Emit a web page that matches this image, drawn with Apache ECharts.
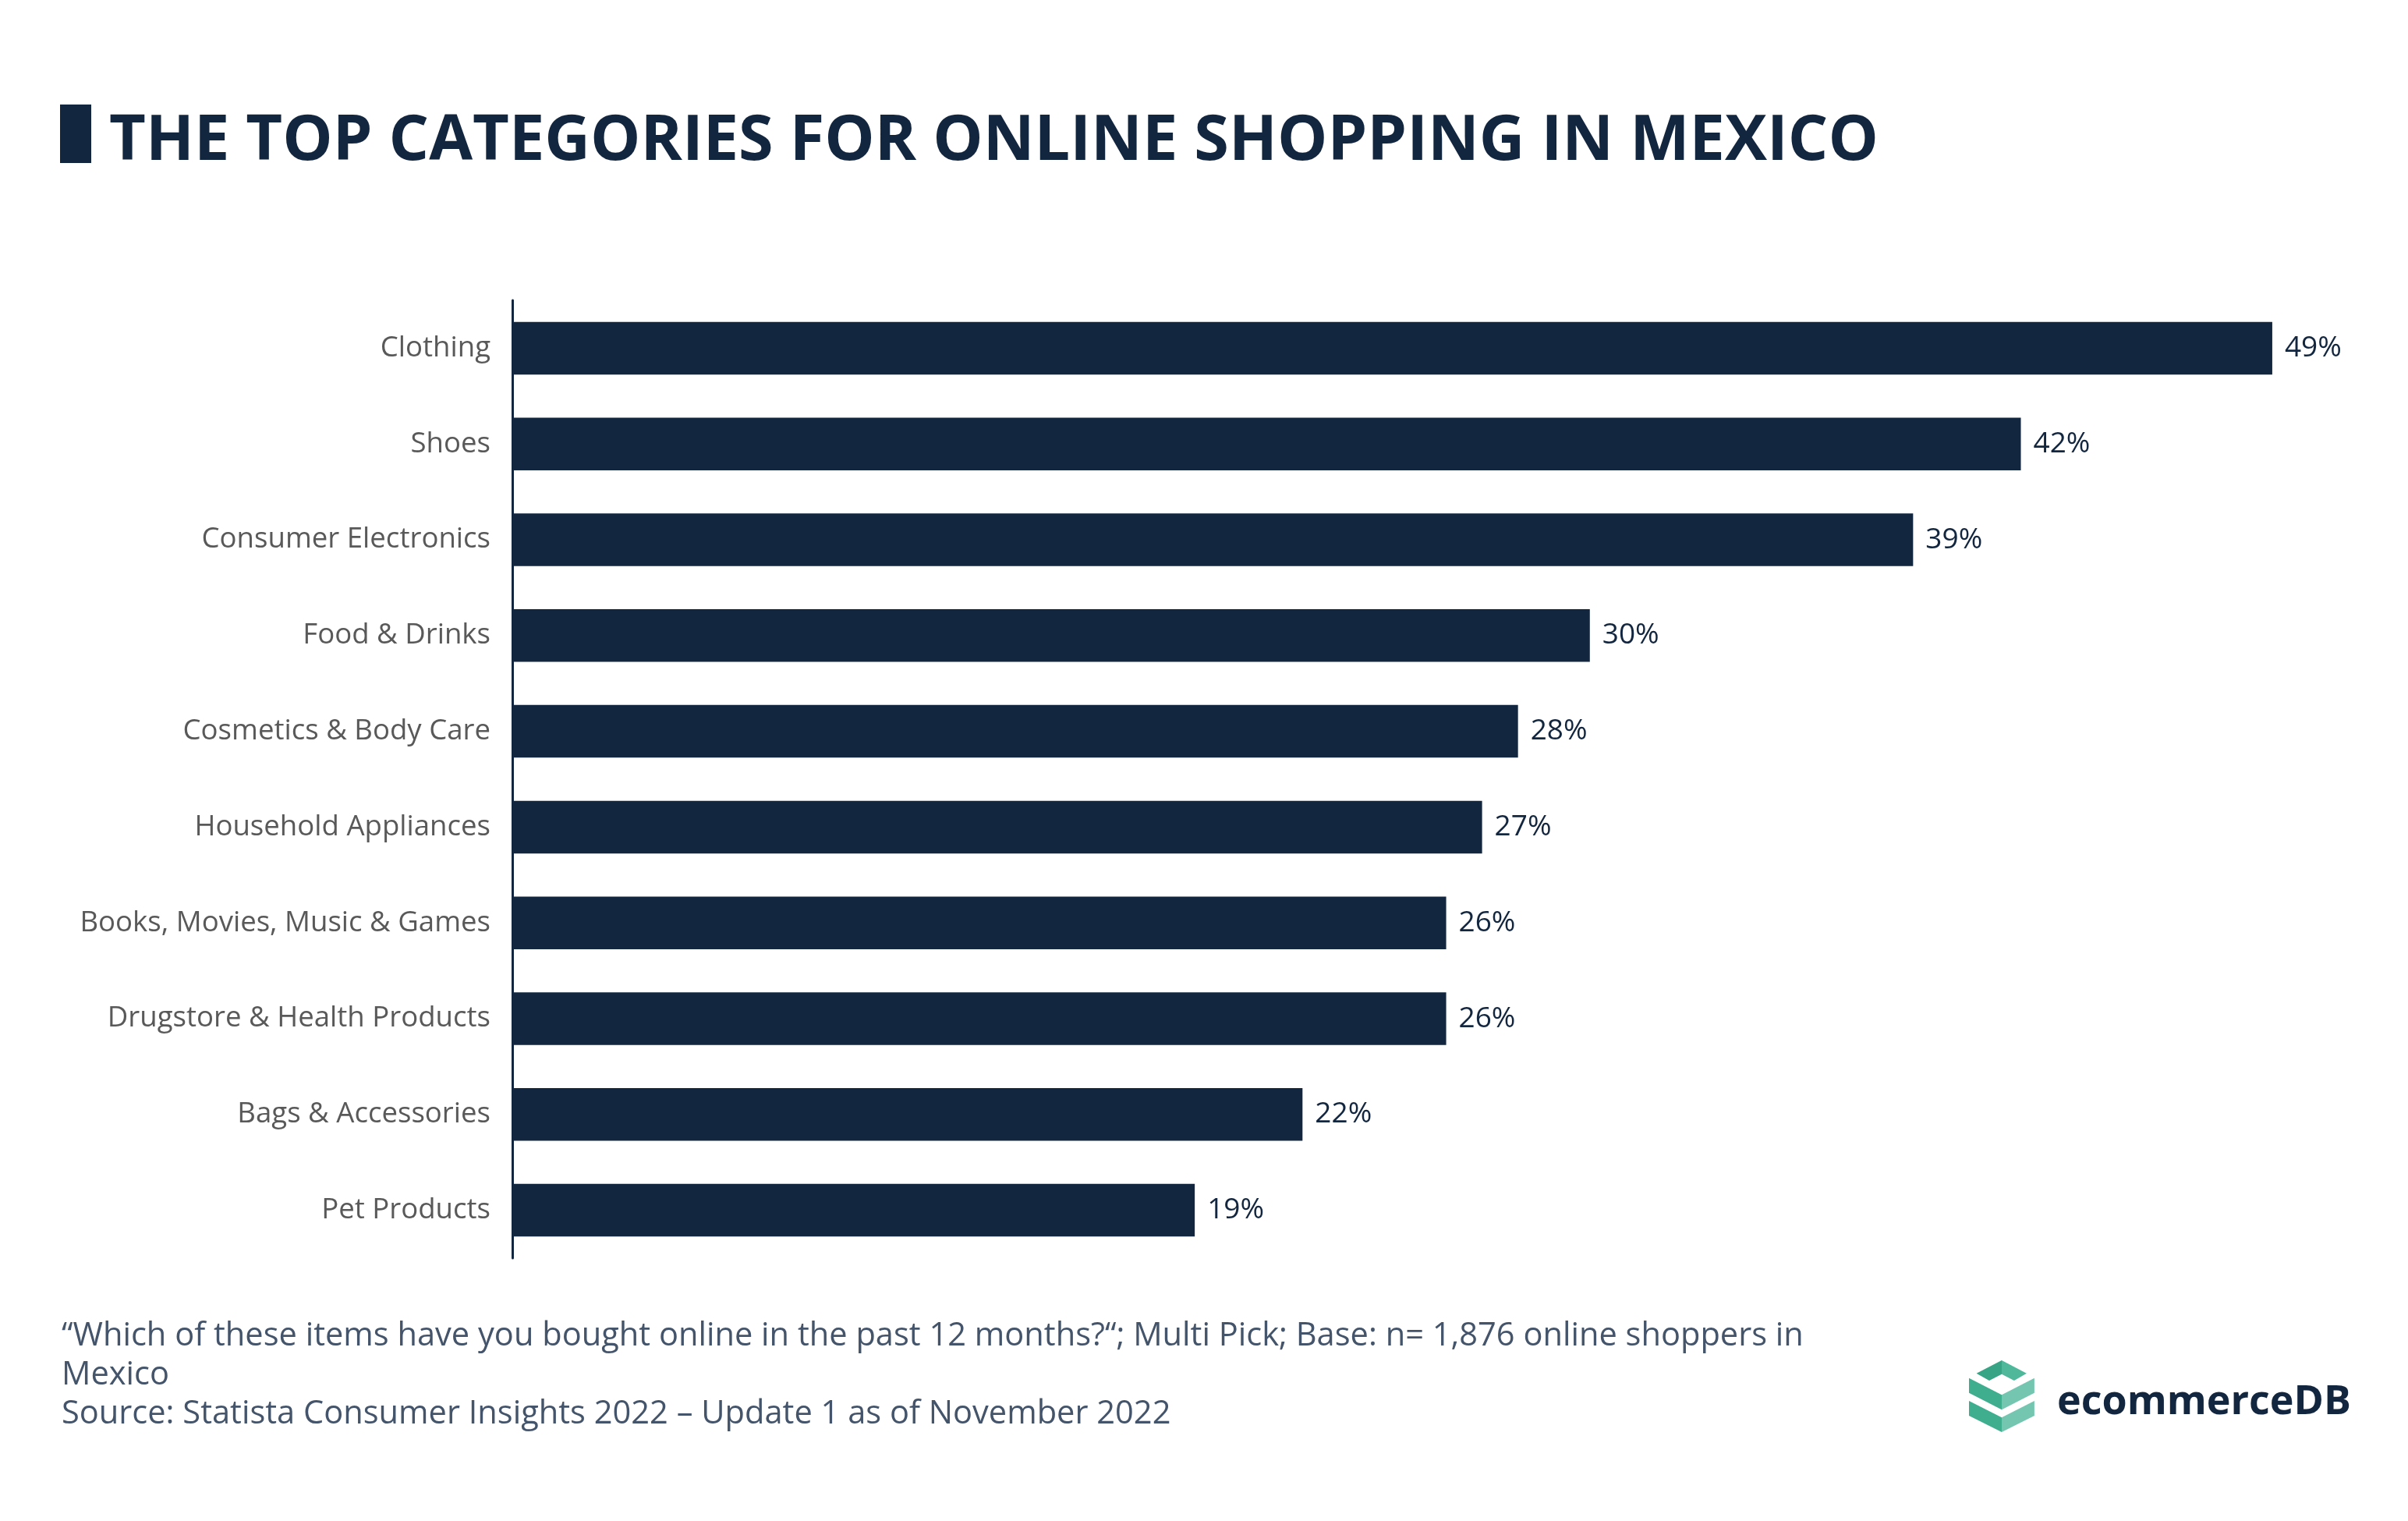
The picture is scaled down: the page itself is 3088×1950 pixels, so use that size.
<!DOCTYPE html>
<html>
<head>
<meta charset="utf-8">
<script src="https://cdn.jsdelivr.net/npm/echarts@6/dist/echarts.min.js"></script>
<style>
html,body{margin:0;padding:0;background:#fff;}
#chart{width:3088px;height:1950px;}
</style>
</head>
<body>
<div id="chart"></div>
<script>
const categories = ["Clothing","Shoes","Consumer Electronics","Food & Drinks","Cosmetics & Body Care","Household Appliances","Books, Movies, Music & Games","Drugstore & Health Products","Bags & Accessories","Pet Products"];
const values = [49,42,39,30,28,27,26,26,22,19];
const titleText = "THE TOP CATEGORIES FOR ONLINE SHOPPING IN MEXICO";
const footerLines = ["\u201cWhich of these items have you bought online in the past 12 months?\u201c; Multi Pick; Base: n= 1,876 online shoppers in", "Mexico", "Source: Statista Consumer Insights 2022 \u2013 Update 1 as of November 2022"];
const logoText = "ecommerceDB";

const NAVY = "#13263f";
const chart = echarts.init(document.getElementById('chart'), null, {renderer:'canvas'});

function poly(points, color){
  return {type:'polygon', shape:{points:points}, style:{fill:color}, silent:true};
}
const dk = "#3fae8f", lt = "#74c6b0", dk2 = "#36a485";
const cx = 2567;
const logoEls = [
  poly([[2534.6,1760.7],[cx,1744],[cx,1761.7],[2551,1770]], dk2),
  poly([[cx,1744],[2598.9,1760.7],[2582.9,1770],[cx,1761.7]], "#4fb89b"),
  poly([[2525,1766.7],[cx,1788.3],[cx,1807.3],[2525,1785.7]], dk),
  poly([[cx,1788.3],[2608.9,1766.7],[2608.9,1785.7],[cx,1807.3]], lt),
  poly([[2525,1796],[cx,1817.3],[cx,1836],[2525,1815]], dk),
  poly([[cx,1817.3],[2608.9,1796],[2608.9,1815],[cx,1836]], lt)
];

const option = {
  backgroundColor:'#ffffff',
  animation:false,
  grid:{left:657, right:128, top:385, bottom:337, containLabel:false},
  xAxis:{type:'value', min:0, max:50, show:false},
  yAxis:{
    type:'category', data:categories, inverse:true,
    axisLine:{show:true, lineStyle:{color:NAVY, width:3}},
    axisTick:{show:false},
    axisLabel:{color:'#595959', fontSize:36.6, fontFamily:'Open Sans', margin:28, padding:[10,0,0,0]}
  },
  series:[{
    type:'bar', data:values, barCategoryGap:'45%',
    itemStyle:{color:NAVY},
    label:{show:true, position:'right', distance:16, formatter:'{c}%', color:NAVY, fontSize:37, fontFamily:'Open Sans', padding:[6,0,0,0]}
  }],
  graphic:[
    {type:'rect', shape:{x:77, y:134, width:40, height:75}, style:{fill:NAVY}, silent:true},
    {type:'text', x:140, y:182, style:{text:titleText, font:'bold 81px "Open Sans"', fill:NAVY, textVerticalAlign:'middle'}, silent:true},
    {type:'text', x:79, y:1688, style:{text:footerLines.join('\n'), font:'41.6px "Open Sans"', lineHeight:50, fill:'#44546a', textVerticalAlign:'top'}, silent:true},
    {type:'text', x:2638, y:1798, style:{text:logoText, font:'bold 52px "Open Sans"', fill:NAVY, textVerticalAlign:'middle'}, silent:true}
  ].concat(logoEls)
};
chart.setOption(option);
</script>
</body>
</html>
